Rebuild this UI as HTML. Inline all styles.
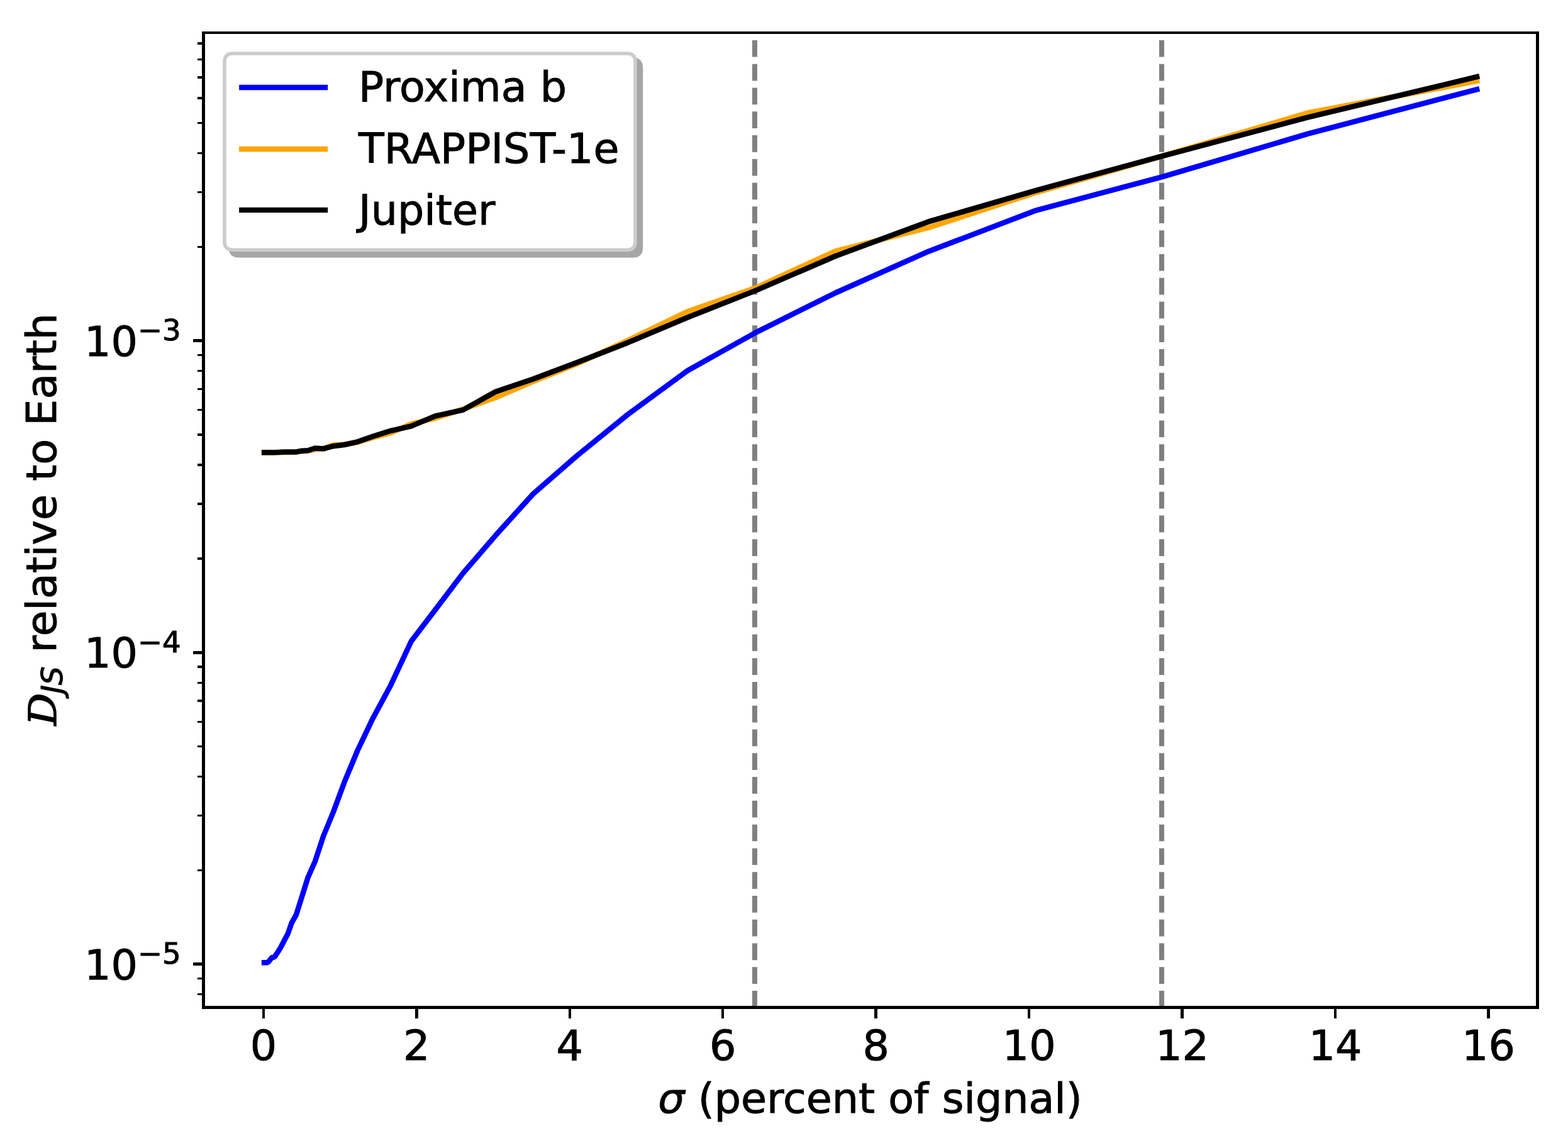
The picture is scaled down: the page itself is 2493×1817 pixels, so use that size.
<!DOCTYPE html>
<html lang="en"><head><meta charset="utf-8"><title>D_JS relative to Earth vs sigma</title>
<style>
html,body{margin:0;padding:0;background:#fff;}
body{width:2493px;height:1817px;overflow:hidden;}
svg{display:block;}
text{font-family:"DejaVu Sans","Liberation Sans",sans-serif;fill:#000;stroke:#000;stroke-width:1px;stroke-linejoin:round;}
.t{font-size:66.67px;}
.s{font-size:46.67px;}
.i{font-style:italic;}
.cal{font-family:"DejaVu Serif","Liberation Serif",serif;}
</style></head><body>
<svg width="2493" height="1817" viewBox="0 0 2493 1817">
<rect width="2493" height="1817" fill="#fff"/>
<line x1="1200.0" y1="1601.8" x2="1200.0" y2="54.3" stroke="#808080" stroke-width="8" stroke-dasharray="26.7 11.08"/>
<line x1="1847.0" y1="1601.8" x2="1847.0" y2="54.3" stroke="#808080" stroke-width="8" stroke-dasharray="26.7 11.08"/>
<g fill="none" stroke-width="8.5" stroke-linejoin="round" stroke-linecap="square">
<polyline stroke="#0000ff" points="420.1,1530.3 424.0,1530.3 427.0,1529.0 430.4,1524.5 432.3,1522.3 434.5,1521.9 437.1,1520.6 440.0,1516.0 443.5,1510.6 447.5,1503.8 452.1,1494.8 457.5,1484.8 463.8,1466.8 471.1,1453.8 479.6,1426.7 489.4,1395.4 500.9,1369.4 514.2,1329.0 529.7,1291.5 547.6,1243.2 568.5,1193.0 592.8,1141.9 621.1,1089.5 653.9,1019.3 692.0,969.3 736.3,911.0 787.9,851.2 847.7,785.1 917.3,724.5 998.2,658.9 1092.2,589.8 1201.5,528.6 1328.5,465.5 1476.1,399.7 1647.6,334.3 1847.0,281.4 2078.8,212.9 2348.1,142.1"/>
<polyline stroke="#ffa500" points="420.1,719.5 434.5,719.6 443.5,718.7 452.1,719.0 463.8,718.9 471.1,718.2 479.6,717.5 489.4,716.8 500.9,714.3 514.2,713.3 529.7,707.5 547.6,706.6 568.5,703.0 592.8,695.6 621.1,688.2 653.9,673.8 692.0,664.8 736.3,650.4 787.9,632.0 847.7,606.4 917.3,578.3 998.2,541.2 1092.2,495.6 1201.5,457.5 1328.5,399.0 1476.1,362.0 1647.6,306.0 1847.0,248.4 2078.8,179.5 2348.1,128.9"/>
<polyline stroke="#000" points="420.1,719.2 434.5,719.2 443.5,719.0 452.1,718.6 463.8,718.5 471.1,718.4 479.6,716.8 489.4,716.2 500.9,712.5 514.2,713.3 529.7,709.2 547.6,707.0 568.5,702.3 592.8,693.8 621.1,684.8 653.9,677.4 692.0,661.3 736.3,651.6 787.9,622.7 847.7,602.5 917.3,576.2 998.2,544.7 1092.2,505.0 1201.5,461.9 1328.5,407.0 1476.1,352.4 1647.6,302.6 1847.0,248.4 2078.8,186.6 2348.1,122.2"/>
</g>
<g fill="#000" shape-rendering="crispEdges">
<path d="M417 1604h4v15h-4zM660 1604h5v15h-5zM904 1604h4v15h-4zM1147 1604h4v15h-4zM1390 1604h5v15h-5zM1634 1604h4v15h-4zM1877 1604h5v15h-5zM2121 1604h4v15h-4zM2364 1604h5v15h-5zM307 539h14v5h-14zM307 1035h14v5h-14zM307 1530h14v5h-14zM314 1579h7v3h-7zM314 1554h7v3h-7zM314 1382h7v3h-7zM314 1295h7v3h-7zM314 1233h7v3h-7zM314 1185h7v3h-7zM314 1146h7v3h-7zM314 1112h7v4h-7zM314 1084h7v3h-7zM314 1058h7v4h-7zM314 886h7v4h-7zM314 799h7v4h-7zM314 737h7v4h-7zM314 689h7v4h-7zM314 650h7v3h-7zM314 617h7v3h-7zM314 588h7v3h-7zM314 563h7v3h-7zM314 391h7v3h-7zM314 304h7v3h-7zM314 242h7v3h-7zM314 194h7v3h-7zM314 154h7v4h-7zM314 121h7v4h-7zM314 93h7v3h-7zM314 67h7v4h-7z"/>
</g>
<g fill="#000" shape-rendering="crispEdges">
<rect x="321" y="50" width="2126" height="4"/>
<rect x="321" y="1599" width="2126" height="5"/>
<rect x="321" y="50" width="5" height="1554"/>
<rect x="2442" y="50" width="5" height="1554"/>
</g>
<g class="t" text-anchor="middle">
<text x="418.9" y="1684.8">0</text>
<text x="662.3" y="1684.8">2</text>
<text x="905.8" y="1684.8">4</text>
<text x="1149.2" y="1684.8">6</text>
<text x="1392.7" y="1684.8">8</text>
<text x="1636.2" y="1684.8">10</text>
<text x="1879.6" y="1684.8">12</text>
<text x="2123.1" y="1684.8">14</text>
<text x="2366.5" y="1684.8">16</text>
</g>
<text class="t" x="134.1" y="565.8">10<tspan class="s" dy="-24.8">−3</tspan></text>
<text class="t" x="134.1" y="1061.3">10<tspan class="s" dy="-24.8">−4</tspan></text>
<text class="t" x="134.1" y="1556.8">10<tspan class="s" dy="-24.8">−5</tspan></text>
<text class="t" x="1383.6" y="1768.6" text-anchor="middle"><tspan class="i">σ</tspan> (percent of signal)</text>
<g transform="translate(89 0) rotate(-90)">
<text class="cal i" font-size="66.67" transform="translate(-1153.2 0.3) scale(0.961 0.894)" style="stroke-width:1.8px">D</text>
<text class="s i" x="-1102.8" y="10.4">JS</text>
<text class="t" x="-1037.4" y="0">relative to Earth</text>
</g>
<path d="M379.70 94.40L1006.10 94.40Q1019.40 94.40 1019.40 107.70L1019.40 393.40Q1019.40 406.70 1006.10 406.70L379.70 406.70Q366.40 406.70 366.40 393.40L366.40 107.70Q366.40 94.40 379.70 94.40Z" fill="#a6a6a6" stroke="#a6a6a6" stroke-width="5.6"/>
<path d="M370.30 85.00L996.70 85.00Q1010.00 85.00 1010.00 98.30L1010.00 384.00Q1010.00 397.30 996.70 397.30L370.30 397.30Q357.00 397.30 357.00 384.00L357.00 98.30Q357.00 85.00 370.30 85.00Z" fill="#fff" stroke="#cccccc" stroke-width="5.6"/>
<line x1="384.3" y1="139.0" x2="517.0" y2="139.0" stroke="#0000ff" stroke-width="8.33" stroke-linecap="square"/>
<text class="t" x="570.1" y="161.3">Proxima b</text>
<line x1="384.3" y1="237.0" x2="517.0" y2="237.0" stroke="#ffa500" stroke-width="8.33" stroke-linecap="square"/>
<text class="t" x="570.1" y="258.9">TRAPPIST-1e</text>
<line x1="384.3" y1="333.9" x2="517.0" y2="333.9" stroke="#000" stroke-width="8.33" stroke-linecap="square"/>
<text class="t" x="570.1" y="356.7">Jupiter</text>
</svg></body></html>
